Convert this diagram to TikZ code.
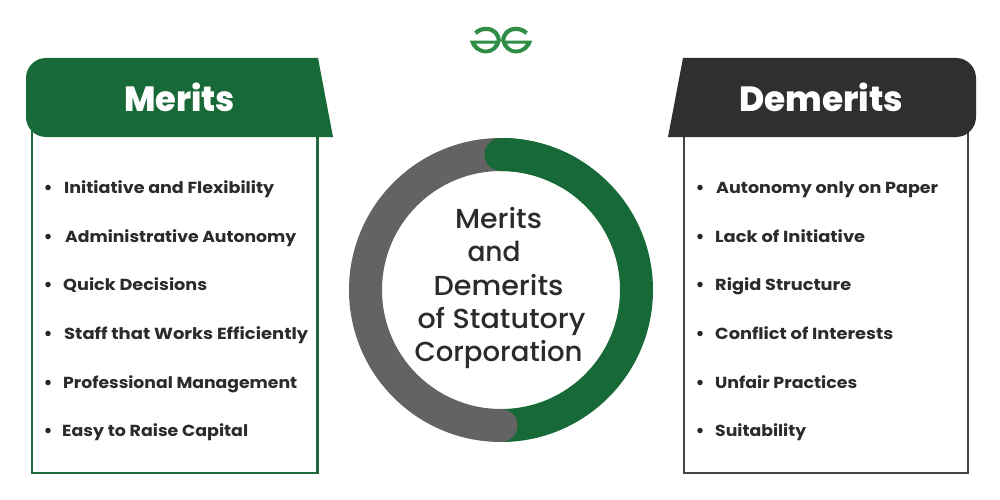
\documentclass[tikz,border=0pt]{standalone}
\usepackage{graphicx}
\usepackage{fontspec}
\setmainfont{Poppins}
\newfontfamily\itemfont{Poppins}[UprightFont=*-Bold]
\newfontfamily\headfont{Poppins}[UprightFont=*-ExtraBold]
\newfontfamily\ringfont{Poppins}[UprightFont=*-Medium]
\newcommand\fitw[2]{\resizebox{#1pt}{\height}{#2}}
\definecolor{ggreen}{HTML}{176A37}
\definecolor{bgreen}{HTML}{1F6B3E}
\definecolor{gdark}{HTML}{2F2F2F}
\definecolor{gline}{HTML}{454545}
\definecolor{ggray}{HTML}{636363}
\definecolor{ink}{HTML}{2B2B2B}
\definecolor{logog}{HTML}{2F8D46}
\tikzset{
 x=1pt,y=-1pt,
 listbox/.style={line width=2.8pt,fill=white},
 headtitle/.style={anchor=base,text=white,inner sep=0pt,font=\headfont\fontsize{35}{35}\selectfont},
 listitem/.style={anchor=base west,text=ink,inner sep=0pt,font=\itemfont\fontsize{16}{16}\selectfont},
 bulletdot/.style={circle,fill=black!85,inner sep=0pt,minimum size=5.5pt},
 ringtext/.style={anchor=base,text=ink,inner sep=0pt,font=\ringfont\fontsize{27.5}{27.5}\selectfont},
 ringarc/.style={line width=33pt,line cap=round},
 logostroke/.style={draw=logog,line width=4.2pt}
}
\begin{document}
\begin{tikzpicture}
\useasboundingbox[fill=white] (0,0) rectangle (1000,500);
% logo
\foreach \s in {1,-1}{
\begin{scope}[shift={(501,0)},xscale=\s]
\draw[logostroke] (25.5,33.2) .. controls (22.5,30.2) and (19,28.9) .. (15,28.9)
  .. controls (7,28.9) and (2.2,34) .. (2.2,41.5);
\fill[logog,even odd rule] (0.3,40.7) -- (31,40.7) .. controls (29.5,48) and (23,53.4) .. (15,53.4)
  .. controls (7.5,53.4) and (1.5,48) .. (0.3,40.7) -- cycle
  (6,43.6) .. controls (7.5,47.3) and (11,49.6) .. (15,49.6) .. controls (19.5,49.6) and (23,47.3) .. (25,43.6) -- cycle;
\end{scope}}
% list boxes
\draw[listbox,draw=bgreen] (32,130) rectangle (317.5,473);
\draw[listbox,draw=gline] (684,130) rectangle (968,473);
% headers
\fill[ggreen] (46,58) -- (318,58) -- (333,137) -- (46,137)
  arc[start angle=90,end angle=180,radius=20] -- (26,78)
  arc[start angle=180,end angle=270,radius=20] -- cycle;
\fill[gdark] (683,58) -- (956,58) arc[start angle=-90,end angle=0,radius=20]
  -- (976,117) arc[start angle=0,end angle=90,radius=20] -- (668,137) -- cycle;
\node[headtitle] (merits) at (179.5,111.5) {\fitw{111}{Merits}};
\node[headtitle] (demerits) at (821,111.5) {\fitw{164}{Demerits}};
% left list
\foreach \n/\x/\y/\w/\t in {
 a/64/193/210/Initiative and Flexibility,
 b/65/242/231/Administrative Autonomy,
 c/63/290/144/Quick Decisions,
 d/64/339/244/Staff that Works Efficiently,
 e/63/388/234/Professional Management,
 f/62/436/186/Easy to Raise Capital}{
 \node[listitem] (l\n) at (\x,\y) {\fitw{\w}{\t}};
 \node[bulletdot] (lb\n) at (48,\y-5.5) {};
}
% right list
\foreach \n/\x/\y/\w/\t in {
 a/716/193/222/Autonomy only on Paper,
 b/715/242/150/Lack of Initiative,
 c/715/290/136/Rigid Structure,
 d/715/339/178/Conflict of Interests,
 e/715/388/142/Unfair Practices,
 f/715/436/91/Suitability}{
 \node[listitem] (r\n) at (\x,\y) {\fitw{\w}{\t}};
 \node[bulletdot] (rb\n) at (700,\y-5.5) {};
}
% ring
\coordinate (c) at (501,290);
\draw[ringarc,draw=ggreen] (501,154.5) arc[start angle=-90,end angle=90,radius=135.5];
\draw[ringarc,draw=ggray] (501,425.5) arc[start angle=90,end angle=270,radius=135.5];
\draw[ringarc,draw=ggreen] (501,154.5) arc[start angle=-90,end angle=-60,radius=135.5];
% centre text
\node[ringtext] (t1) at (498.5,228.5) {\fitw{87}{Merits}};
\node[ringtext] (t2) at (494,261.5) {\fitw{53}{and}};
\node[ringtext] (t3) at (498.5,295) {\fitw{130}{Demerits}};
\node[ringtext] (t4) at (501.5,328) {\fitw{168}{of Statutory}};
\node[ringtext] (t5) at (498.5,361) {\fitw{168}{Corporation}};
\end{tikzpicture}
\end{document}
